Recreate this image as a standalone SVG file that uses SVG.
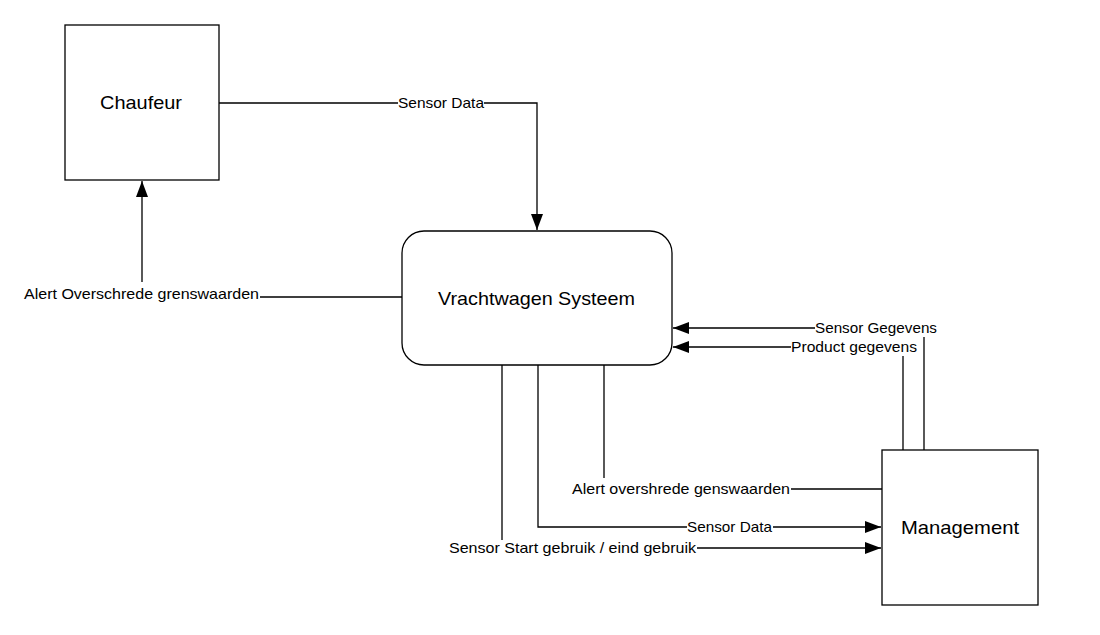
<svg xmlns="http://www.w3.org/2000/svg" width="1100" height="635" viewBox="0 0 1100 635">
<style>
.node{fill:#fff;stroke:#000;stroke-width:1.3}
.nl{font-family:"Liberation Sans",Arial,sans-serif;font-size:18.5px;fill:#000;dominant-baseline:central}
.c{fill:none;stroke:#000;stroke-width:1.3}
.lb{font-family:"Liberation Sans",Arial,sans-serif;font-size:14.5px;fill:#000;dominant-baseline:central}
.bg{fill:#fff}
</style>
<defs>
<marker id="arr" markerWidth="16" markerHeight="12" refX="16" refY="6" orient="auto" markerUnits="userSpaceOnUse">
<path d="M0,0 L16,6 L0,12 Z" fill="#000"/>
</marker>
</defs>
<rect width="1100" height="635" fill="#fff"/>
<g id="connectors">
<path class="c" d="M219,103 H537 V230" marker-end="url(#arr)"/>
<path class="c" d="M402,297 H142 V181" marker-end="url(#arr)"/>
<path class="c" d="M924,450 V328 H673" marker-end="url(#arr)"/>
<path class="c" d="M903,450 V347 H673" marker-end="url(#arr)"/>
<path class="c" d="M604,365 V489 H882"/>
<path class="c" d="M538,365 V527 H881" marker-end="url(#arr)"/>
<path class="c" d="M502,365 V548 H881" marker-end="url(#arr)"/>
<g id="labels">
<rect class="bg" x="398" y="95" width="86" height="16"/>
<text class="lb" x="398" y="103" textLength="86" lengthAdjust="spacingAndGlyphs">Sensor Data</text>
<rect class="bg" x="24" y="282" width="236" height="24"/>
<text class="lb" x="24" y="294" textLength="235" lengthAdjust="spacingAndGlyphs">Alert Overschrede grenswaarden</text>
<rect class="bg" x="815" y="319" width="123" height="18"/>
<text class="lb" x="815" y="328" textLength="122" lengthAdjust="spacingAndGlyphs">Sensor Gegevens</text>
<rect class="bg" x="791" y="338" width="127" height="18"/>
<text class="lb" x="791" y="347" textLength="126" lengthAdjust="spacingAndGlyphs">Product gegevens</text>
<rect class="bg" x="572" y="478" width="219" height="18"/>
<text class="lb" x="572" y="489" textLength="218" lengthAdjust="spacingAndGlyphs">Alert overshrede genswaarden</text>
<rect class="bg" x="687" y="519" width="86" height="16"/>
<text class="lb" x="687" y="527" textLength="85" lengthAdjust="spacingAndGlyphs">Sensor Data</text>
<rect class="bg" x="449" y="540" width="248" height="16"/>
<text class="lb" x="449" y="548" textLength="247" lengthAdjust="spacingAndGlyphs">Sensor Start gebruik / eind gebruik</text>
</g>
</g>
<g id="chaufeur">
<rect class="node" x="65" y="25" width="154" height="155"/>
<text class="nl" x="100" y="102" textLength="82" lengthAdjust="spacingAndGlyphs">Chaufeur</text>
</g>
<g id="vrachtwagen">
<rect class="node" x="402" y="231" width="270" height="134" rx="22" ry="22"/>
<text class="nl" x="438" y="298" textLength="197" lengthAdjust="spacingAndGlyphs">Vrachtwagen Systeem</text>
</g>
<g id="management">
<rect class="node" x="882" y="450" width="156" height="155"/>
<text class="nl" x="901" y="527" textLength="118" lengthAdjust="spacingAndGlyphs">Management</text>
</g>
</svg>
